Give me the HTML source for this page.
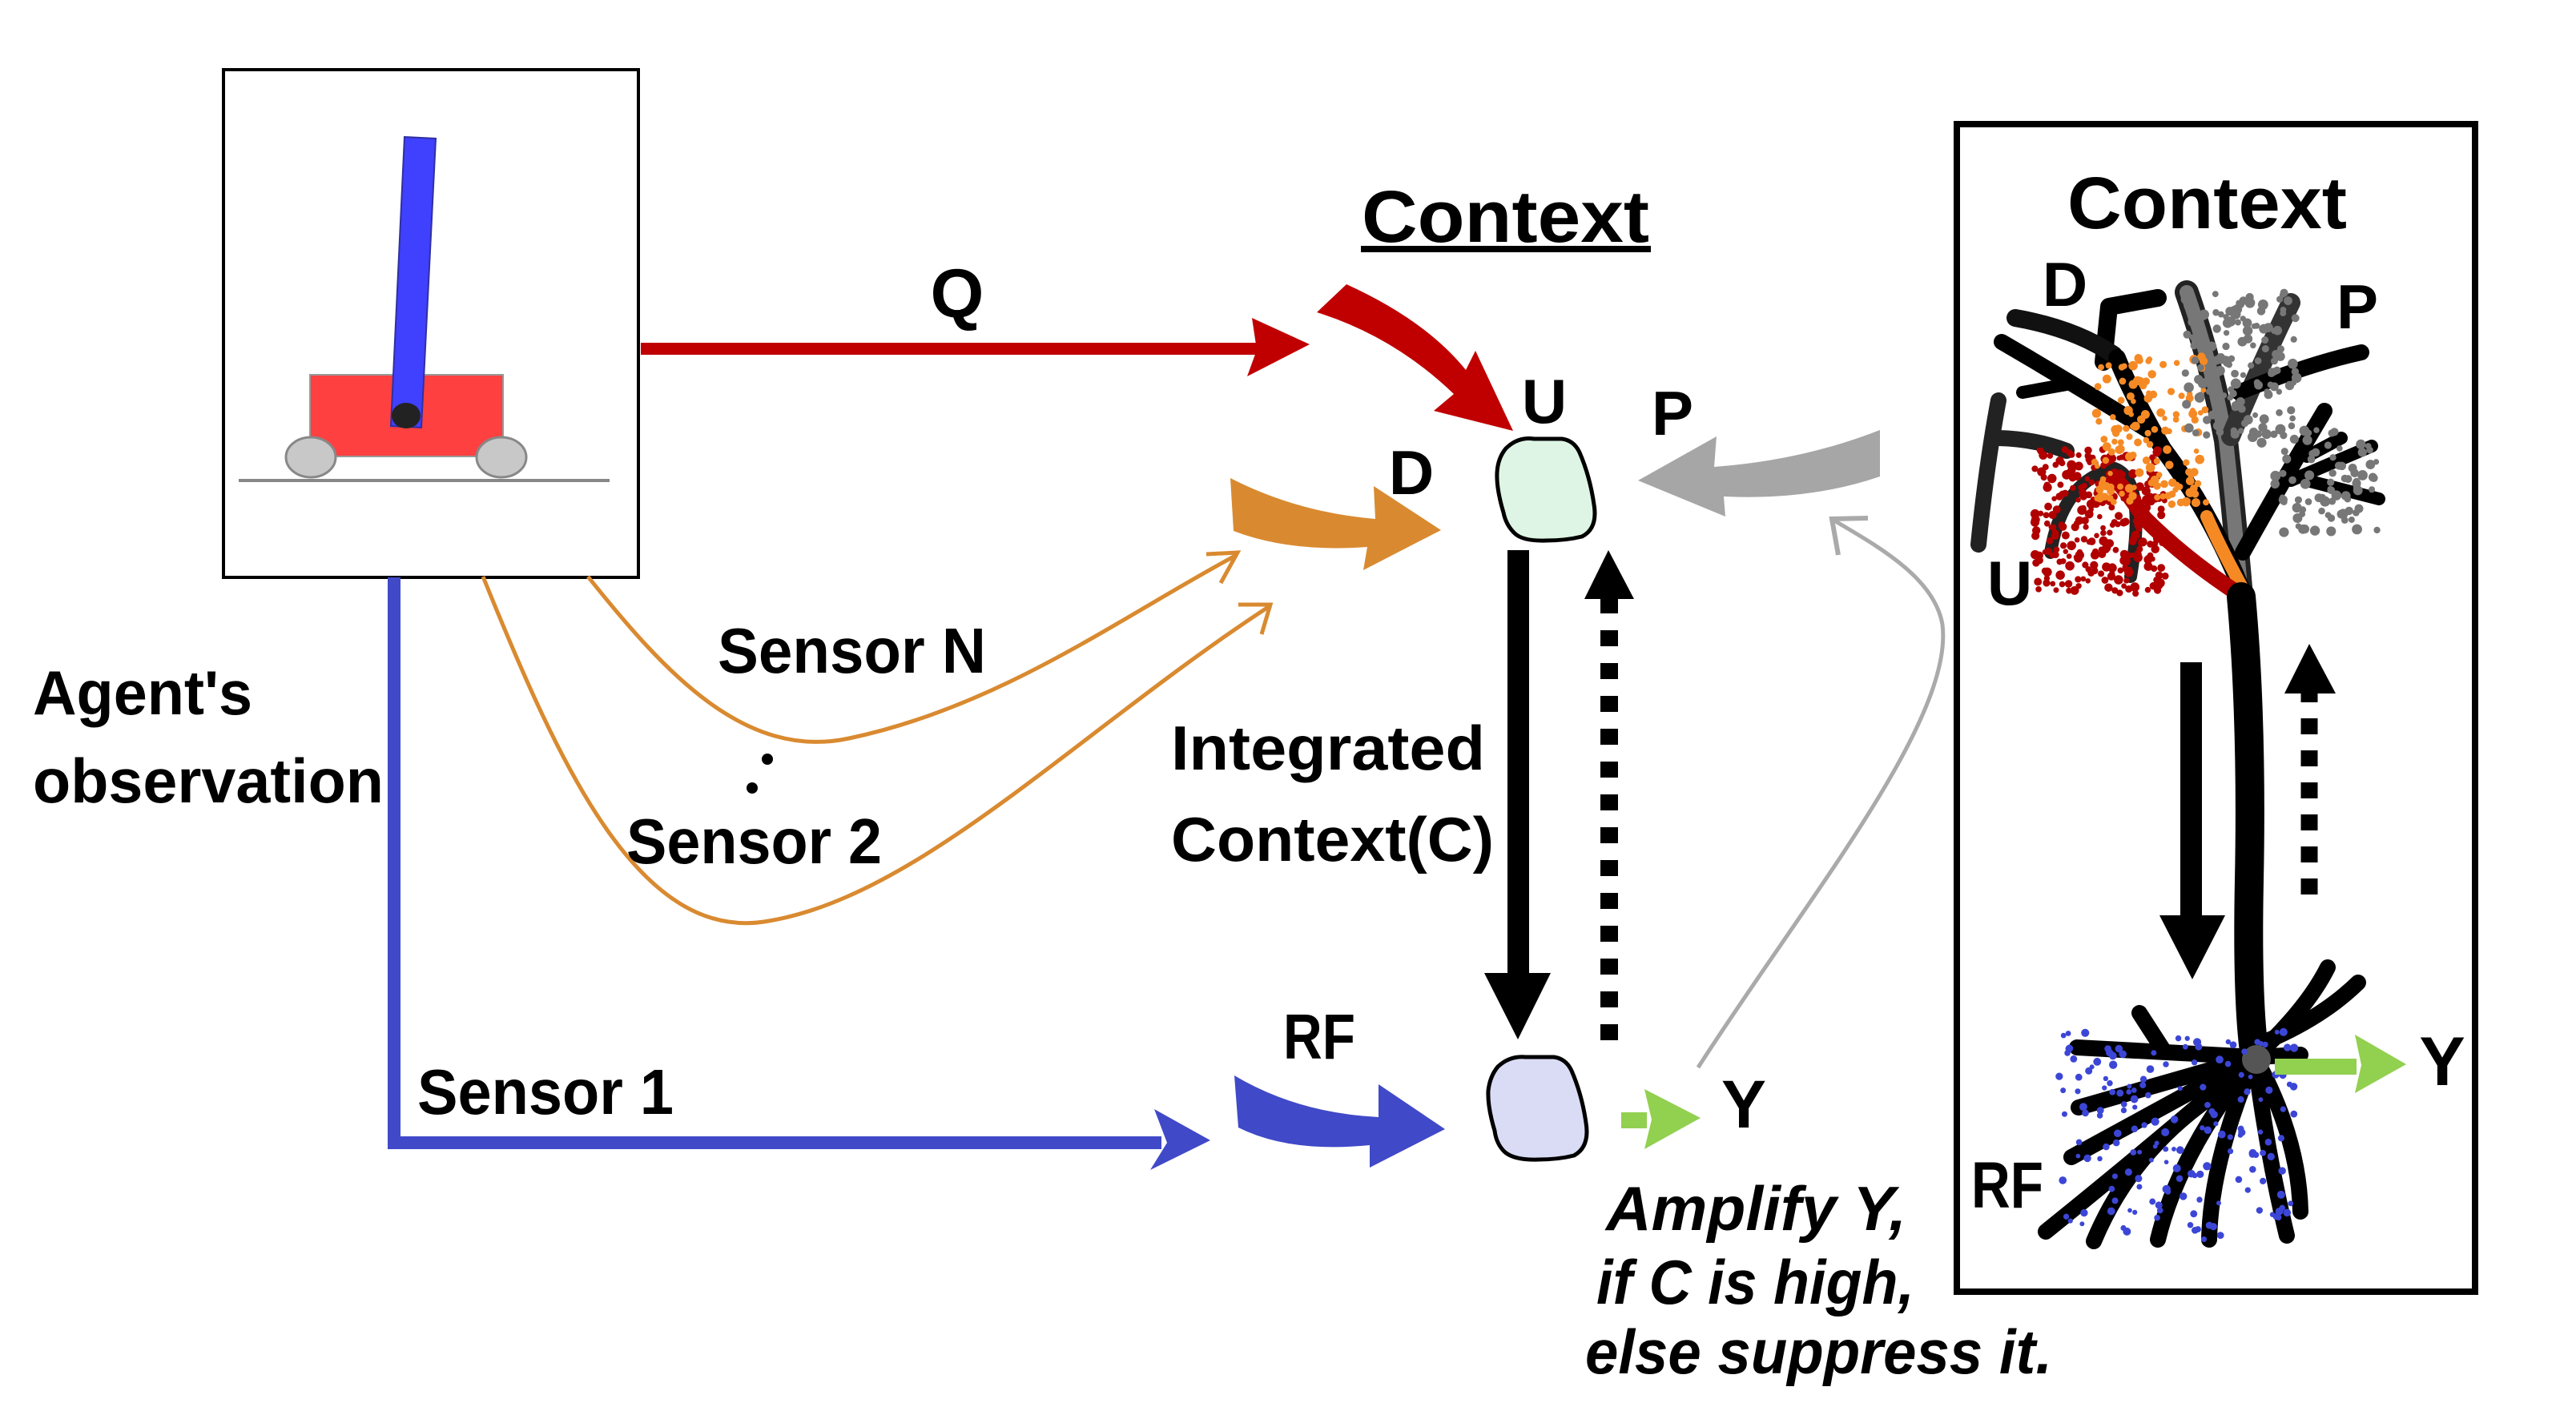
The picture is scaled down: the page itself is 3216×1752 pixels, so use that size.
<!DOCTYPE html>
<html><head><meta charset="utf-8"><style>
html,body{margin:0;padding:0;background:#fff}
svg{display:block}
text{font-family:"Liberation Sans",sans-serif;font-weight:bold;fill:#000}
</style></head><body>
<svg id="s" width="3216" height="1752" viewBox="0 0 3216 1752" xmlns="http://www.w3.org/2000/svg">
<rect width="3216" height="1752" fill="#fff"/>
<rect x="279" y="87" width="518" height="634" fill="#fff" stroke="#000" stroke-width="4"/>
<line x1="298" y1="600" x2="761" y2="600" stroke="#888" stroke-width="4"/>
<rect x="387" y="468" width="241" height="102" fill="#ff4040" stroke="#999" stroke-width="2"/>
<ellipse cx="388" cy="571" rx="31" ry="25" fill="#c8c8c8" stroke="#888" stroke-width="3"/>
<ellipse cx="626" cy="571" rx="31" ry="25" fill="#c8c8c8" stroke="#888" stroke-width="3"/>
<polygon points="505,171 544,173 526,534 488,532" fill="#4040ff" stroke="#3030a0" stroke-width="2"/>
<ellipse cx="507" cy="519" rx="18" ry="16" fill="#222"/>

<rect x="800" y="428" width="772" height="15" fill="#c00000"/>
<polygon points="1563,397 1635,430 1557,470 1569,437" fill="#c00000"/>
<text x="1195" y="396" font-size="86" text-anchor="middle">Q</text>

<polyline points="492,721 492,1427 1450,1427" fill="none" stroke="#4049c8" stroke-width="16"/>
<polygon points="1441,1385 1511,1424 1436,1461 1457,1427" fill="#4049c8"/>

<path d="M734,720 C830,840 930,950 1060,922 C1250,882 1400,770 1544,693" fill="none" stroke="#d98a30" stroke-width="5"/>
<polyline points="1506,692 1545,690 1524,728" fill="none" stroke="#d98a30" stroke-width="5"/>
<path d="M603,720 C700,960 800,1180 960,1150 C1150,1118 1350,910 1585,757" fill="none" stroke="#d98a30" stroke-width="5"/>
<polyline points="1546,755 1586,755 1575,792" fill="none" stroke="#d98a30" stroke-width="5"/>
<circle cx="958" cy="948" r="7"/><circle cx="939" cy="984" r="7"/>

<text x="41" y="892" font-size="78" textLength="274" lengthAdjust="spacingAndGlyphs">Agent's</text>
<text x="41" y="1002" font-size="78" textLength="438" lengthAdjust="spacingAndGlyphs">observation</text>
<text x="896" y="840" font-size="80" textLength="335" lengthAdjust="spacingAndGlyphs">Sensor N</text>
<text x="782" y="1078" font-size="80" textLength="319" lengthAdjust="spacingAndGlyphs">Sensor 2</text>
<text x="521" y="1391" font-size="80" textLength="320" lengthAdjust="spacingAndGlyphs">Sensor 1</text>
<text x="1462" y="961" font-size="78" textLength="392" lengthAdjust="spacingAndGlyphs">Integrated</text>
<text x="1462" y="1075" font-size="78" textLength="403" lengthAdjust="spacingAndGlyphs">Context(C)</text>

<text x="1700" y="302" font-size="92" textLength="359" lengthAdjust="spacingAndGlyphs">Context</text>
<rect x="1699" y="307" width="362" height="8" fill="#000"/>

<path d="M1681,355 Q1780,400 1830,462 L1842,438 L1889,538 L1790,513 L1815,492 Q1740,420 1644,390 Z" fill="#c00000"/>
<path d="M1536,597 Q1620,640 1717,648 L1715,607 L1799,662 L1702,712 L1707,683 Q1610,690 1540,663 Z" fill="#d98a30"/>
<path d="M1541,1343 Q1620,1390 1721,1395 L1721,1354 L1804,1410 L1710,1458 L1710,1430 Q1610,1440 1546,1408 Z" fill="#4049c8"/>
<path d="M2347,537 Q2250,575 2140,583 L2143,545 L2045,600 L2154,645 L2152,620 Q2260,625 2347,595 Z" fill="#a6a6a6"/>

<text x="1928" y="528" font-size="78" text-anchor="middle">U</text>
<text x="2088" y="543" font-size="78" text-anchor="middle">P</text>
<text x="1762" y="617" font-size="78" text-anchor="middle">D</text>
<text x="1647" y="1322" font-size="80" text-anchor="middle" textLength="90" lengthAdjust="spacingAndGlyphs">RF</text>
<text x="2177" y="1408" font-size="84" text-anchor="middle">Y</text>

<path d="M1880,560 Q1895,545 1915,548 L1950,548 Q1965,550 1972,565 Q1985,595 1990,630 Q1995,660 1975,670 Q1955,675 1930,675 Q1900,676 1890,665 Q1880,655 1877,640 Q1868,610 1869,590 Q1870,572 1880,560 Z" fill="#def5e5" stroke="#000" stroke-width="5"/>
<path d="M1870,1332 Q1885,1318 1905,1320 L1940,1320 Q1955,1322 1962,1337 Q1975,1367 1980,1402 Q1985,1432 1965,1443 Q1945,1448 1920,1448 Q1890,1449 1878,1438 Q1868,1428 1866,1412 Q1857,1382 1858,1362 Q1860,1344 1870,1332 Z" fill="#dadcf5" stroke="#000" stroke-width="5"/>

<rect x="1882" y="687" width="27" height="530" fill="#000"/>
<polygon points="1853,1215 1936,1215 1895,1298" fill="#000"/>
<line x1="2009" y1="1299" x2="2009" y2="748" stroke="#000" stroke-width="22" stroke-dasharray="20 21"/>
<polygon points="1978,748 2040,748 2008,687" fill="#000"/>

<rect x="2024" y="1389" width="32" height="20" fill="#92d050"/>
<polygon points="2053,1360 2123,1396 2053,1435 2062,1398" fill="#92d050"/>

<path d="M2120,1333 C2250,1130 2440,900 2425,780 C2415,720 2340,680 2290,650" fill="none" stroke="#aaa" stroke-width="5"/>
<polyline points="2295,693 2287,648 2332,647" fill="none" stroke="#aaa" stroke-width="6"/>

<text x="2005" y="1536" font-size="78" font-style="italic" textLength="375" lengthAdjust="spacingAndGlyphs">Amplify Y,</text>
<text x="1993" y="1628" font-size="78" font-style="italic" textLength="397" lengthAdjust="spacingAndGlyphs">if C is high,</text>
<text x="1979" y="1715" font-size="78" font-style="italic" textLength="583" lengthAdjust="spacingAndGlyphs">else suppress it.</text>

<rect x="2443" y="155" width="647" height="1458" fill="none" stroke="#000" stroke-width="8"/>
<text x="2581" y="285" font-size="92" textLength="349" lengthAdjust="spacingAndGlyphs">Context</text>

<g id="neuron" stroke-linecap="round" stroke-linejoin="round" fill="none">
<path d="M2626,452 L2633,383 L2694,372" stroke="#000" stroke-width="22"/>
<path d="M2516,397 Q2590,410 2639,443" stroke="#111" stroke-width="22"/>
<path d="M2499,427 Q2590,480 2686,540" stroke="#000" stroke-width="20"/>
<path d="M2525,490 L2580,480" stroke="#000" stroke-width="16"/>
<path d="M2470,680 Q2480,580 2495,500" stroke="#222" stroke-width="20"/>
<path d="M2495,547 Q2540,548 2580,563" stroke="#222" stroke-width="20"/>
<path d="M2560,690 Q2575,600 2640,585 Q2680,600 2660,720" stroke="#222" stroke-width="16"/>
<path d="M2798,745 Q2790,650 2779,550 Q2760,450 2730,365" stroke="#222" stroke-width="30"/>
<path d="M2798,745 Q2790,650 2779,550 Q2760,450 2730,365" stroke="#777" stroke-width="18"/>
<path d="M2785,545 Q2820,460 2860,378" stroke="#333" stroke-width="24"/>
<path d="M2795,490 Q2880,455 2948,440" stroke="#000" stroke-width="20"/>
<path d="M2800,690 Q2850,600 2902,513" stroke="#000" stroke-width="20"/>
<path d="M2860,600 L2961,557" stroke="#000" stroke-width="16"/>
<path d="M2880,600 L2970,623" stroke="#000" stroke-width="16"/>
<path d="M2880,570 L2923,547" stroke="#000" stroke-width="16"/>
<path d="M2798,735 Q2760,640 2700,560 Q2660,490 2643,447" stroke="#000" stroke-width="22"/>
<path d="M2800,735 Q2770,680 2755,645" stroke="#f58a25" stroke-width="16"/>
<path d="M2800,745 Q2730,700 2677,647 Q2660,620 2643,600" stroke="#b00000" stroke-width="20"/>
<path d="M2798,745 Q2812,900 2808,1100 Q2805,1250 2815,1320" stroke="#000" stroke-width="36"/>
<g stroke="#000" stroke-width="20">
<path d="M2815,1320 L2593,1308"/><path d="M2700,1310 L2671,1265"/>
<path d="M2815,1320 L2595,1383"/><path d="M2815,1320 L2586,1445"/>
<path d="M2815,1320 Q2700,1420 2554,1538"/><path d="M2760,1370 Q2660,1440 2614,1550"/>
<path d="M2815,1320 Q2720,1440 2694,1548"/><path d="M2815,1320 Q2760,1450 2758,1548"/>
<path d="M2815,1320 Q2830,1440 2855,1543"/><path d="M2815,1320 Q2870,1420 2872,1513"/>
<path d="M2815,1320 Q2880,1260 2906,1208"/><path d="M2830,1300 Q2900,1270 2944,1227"/>
<path d="M2815,1320 L2872,1317"/>
</g>
<circle cx="2817" cy="1323" r="18" fill="#555" stroke="none"/>
</g>
<g id="dots"></g>

<rect x="2722" y="827" width="27" height="320" fill="#000"/>
<polygon points="2696,1143 2778,1143 2737,1223" fill="#000"/>
<line x1="2883" y1="1117" x2="2883" y2="866" stroke="#000" stroke-width="21" stroke-dasharray="20 20"/>
<polygon points="2852,866 2916,866 2883,804" fill="#000"/>
<rect x="2840" y="1322" width="102" height="20" fill="#92d050"/>
<polygon points="2940,1292 3004,1329 2940,1365 2948,1330" fill="#92d050"/>

<text x="2578" y="382" font-size="78" text-anchor="middle">D</text>
<text x="2943" y="410" font-size="78" text-anchor="middle">P</text>
<text x="2509" y="755" font-size="78" text-anchor="middle">U</text>
<text x="2506" y="1508" font-size="82" text-anchor="middle" textLength="90" lengthAdjust="spacingAndGlyphs">RF</text>
<text x="3049" y="1355" font-size="86" text-anchor="middle">Y</text>
</svg>
<script>
(function(){
var s=12345;function r(){s=(s*16807)%2147483647;return s/2147483647;}
var g=document.getElementById('dots'),ns='http://www.w3.org/2000/svg';
function cloud(x0,y0,x1,y1,n,c,rad){for(var i=0;i<n;i++){var e=document.createElementNS(ns,'circle');e.setAttribute('cx',x0+r()*(x1-x0));e.setAttribute('cy',y0+r()*(y1-y0));e.setAttribute('r',rad*(0.7+r()*0.6));e.setAttribute('fill',c);g.appendChild(e);}}
cloud(2540,560,2705,745,280,'#b00000',4.5);
cloud(2615,445,2755,630,140,'#f58a25',4.5);
cloud(2728,365,2868,553,140,'#777',5);
cloud(2840,535,2970,665,80,'#777',5);
cloud(2570,1285,2865,1550,170,'#3c46d6',4);
})();
</script>
</body></html>
